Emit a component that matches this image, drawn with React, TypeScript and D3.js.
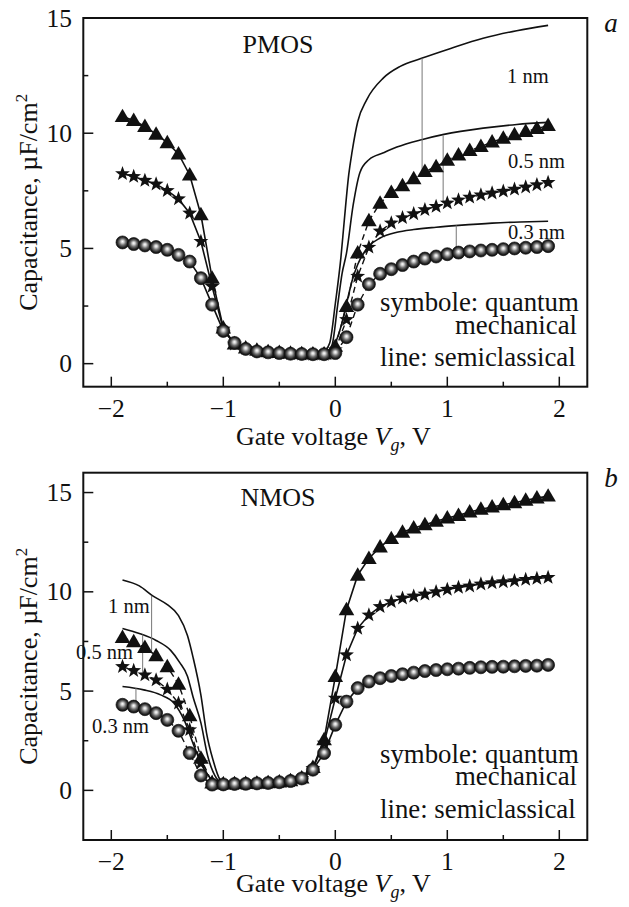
import React from 'react';
import * as d3 from 'd3';

// Gate voltage grid of the symbols (V)
const GATE_VOLTAGE = [
  -1.9, -1.8, -1.7, -1.6, -1.5, -1.4, -1.3, -1.2, -1.1, -1.0,
  -0.9, -0.8, -0.7, -0.6, -0.5, -0.4, -0.3, -0.2, -0.1, 0.0,
  0.1, 0.2, 0.3, 0.4, 0.5, 0.6, 0.7, 0.8, 0.9, 1.0,
  1.1, 1.2, 1.3, 1.4, 1.5, 1.6, 1.7, 1.8, 1.9,
];

// PMOS, quantum mechanical (symbols), µF/cm²
const PMOS_1NM_QM = [
  10.72, 10.55, 10.29, 9.96, 9.59, 9.1, 8.19, 6.46, 3.71, 1.55,
  0.85, 0.68, 0.58, 0.52, 0.48, 0.45, 0.43, 0.42, 0.42, 0.75,
  2.48, 4.8, 6.2, 6.96, 7.43, 7.72, 8.02, 8.34, 8.55, 8.83,
  9.05, 9.25, 9.42, 9.62, 9.78, 9.93, 10.07, 10.2, 10.33,
];
const PMOS_05NM_QM = [
  8.24, 8.12, 7.95, 7.79, 7.51, 7.15, 6.53, 5.3, 3.35, 1.5,
  0.85, 0.66, 0.56, 0.5, 0.46, 0.43, 0.41, 0.4, 0.4, 0.6,
  1.91, 3.79, 5.05, 5.75, 6.1, 6.33, 6.5, 6.68, 6.82, 6.97,
  7.1, 7.22, 7.32, 7.4, 7.48, 7.57, 7.66, 7.76, 7.86,
];
const PMOS_03NM_QM = [
  5.26, 5.19, 5.13, 5.06, 4.94, 4.72, 4.43, 3.71, 2.56, 1.42,
  0.9, 0.64, 0.53, 0.49, 0.46, 0.43, 0.42, 0.41, 0.41, 0.46,
  1.15, 2.56, 3.45, 3.9, 4.1, 4.28, 4.43, 4.56, 4.65, 4.75,
  4.82, 4.87, 4.91, 4.94, 4.97, 5.0, 5.03, 5.06, 5.1,
];

// PMOS, semiclassical lines where they differ from the symbols [V, µF/cm²]
const PMOS_1NM_SC: [number, number][] = [
  [-0.12, 0.42], [-0.05, 0.9], [0.0, 2.6], [0.05, 4.6], [0.08, 6.2], [0.12, 8.2],
  [0.15, 9.2], [0.2, 10.5], [0.28, 11.45], [0.43, 12.4], [0.58, 12.9], [0.77, 13.25],
  [1.03, 13.68], [1.32, 14.12], [1.62, 14.45], [1.9, 14.68],
];
const PMOS_05NM_SC: [number, number][] = [
  [-0.1, 0.42], [-0.03, 0.8], [0.02, 2.5], [0.06, 3.9], [0.1, 4.8], [0.16, 6.9],
  [0.22, 8.3], [0.3, 8.85], [0.43, 9.15], [0.55, 9.4], [0.77, 9.72], [0.97, 9.95],
  [1.32, 10.22], [1.62, 10.38], [1.9, 10.47],
];
const PMOS_03NM_SC: [number, number][] = [
  [-0.1, 0.42], [0.0, 0.9], [0.05, 1.6], [0.1, 2.6], [0.15, 3.6], [0.2, 4.3],
  [0.3, 5.1], [0.4, 5.45], [0.55, 5.7], [0.7, 5.82], [0.9, 5.92], [1.1, 6.0],
  [1.4, 6.1], [1.65, 6.15], [1.9, 6.18],
];

// NMOS, quantum mechanical (symbols), µF/cm²
const NMOS_1NM_QM = [
  7.7, 7.49, 7.2, 6.78, 6.23, 5.35, 3.76, 1.62, 0.37, 0.32,
  0.33, 0.34, 0.36, 0.38, 0.42, 0.48, 0.62, 1.15, 2.55, 5.73,
  9.1, 10.84, 11.68, 12.26, 12.68, 13.0, 13.22, 13.38, 13.55, 13.72,
  13.85, 14.02, 14.16, 14.27, 14.39, 14.49, 14.61, 14.72, 14.82,
];
const NMOS_05NM_QM = [
  6.23, 6.03, 5.81, 5.56, 5.09, 4.39, 3.05, 1.38, 0.4, 0.33,
  0.33, 0.34, 0.36, 0.38, 0.42, 0.48, 0.6, 1.1, 2.38, 4.64,
  6.82, 8.16, 8.83, 9.25, 9.5, 9.68, 9.78, 9.88, 10.0, 10.12,
  10.22, 10.29, 10.39, 10.45, 10.5, 10.55, 10.62, 10.67, 10.72,
];
const NMOS_03NM_QM = [
  4.31, 4.22, 4.09, 3.89, 3.55, 3.0, 1.88, 0.75, 0.29, 0.3,
  0.32, 0.33, 0.35, 0.37, 0.41, 0.47, 0.6, 1.04, 1.88, 3.3,
  4.47, 5.15, 5.48, 5.65, 5.76, 5.85, 5.93, 6.01, 6.06, 6.1,
  6.13, 6.17, 6.2, 6.22, 6.23, 6.25, 6.27, 6.28, 6.32,
];

// NMOS, semiclassical lines where they differ from the symbols [V, µF/cm²]
const NMOS_1NM_SC: [number, number][] = [
  [-1.9, 10.6], [-1.75, 10.3], [-1.63, 9.8], [-1.5, 9.35], [-1.4, 8.8], [-1.32, 7.8],
  [-1.27, 6.7], [-1.2, 4.8], [-1.15, 2.9], [-1.09, 1.5], [-1.03, 0.55], [-0.97, 0.33],
];
const NMOS_05NM_SC: [number, number][] = [
  [-1.9, 8.15], [-1.75, 7.9], [-1.6, 7.55], [-1.47, 7.05], [-1.39, 6.45], [-1.32, 5.75],
  [-1.27, 4.7], [-1.2, 3.4], [-1.14, 1.75], [-1.06, 0.6], [-1.0, 0.33],
];
const NMOS_03NM_SC: [number, number][] = [
  [-1.9, 5.23], [-1.71, 5.06], [-1.56, 4.81], [-1.44, 4.39], [-1.35, 3.55], [-1.26, 2.21],
  [-1.17, 1.04], [-1.08, 0.45], [-1.0, 0.32],
];

// Grey leader lines [V, from, to]
const PMOS_LEADERS: [number, number, number][] = [
  [0.775, 13.25, 8.3], [0.963, 9.9, 7.05], [1.08, 6.0, 4.95],
];
const NMOS_LEADERS: [number, number, number][] = [
  [-1.64, 9.8, 6.9], [-1.72, 7.85, 5.75], [-1.78, 5.15, 4.4],
];

const X_TICKS = [-2, -1, 0, 1, 2];
const X_MINOR = [-1.5, -0.5, 0.5, 1.5];
const Y_TICKS = [0, 5, 10, 15];
const Y_MINOR = [2.5, 7.5, 12.5];
const THICKNESS_LABELS = ['1 nm', '0.5 nm', '0.3 nm'];

const FONT = '"Liberation Serif", "Times New Roman", Times, serif';
const LEFT = 83.3;
const RIGHT = 587.3;

type Marker = 'triangle' | 'star' | 'circle';

function starPath(R: number, r: number) {
  const pts: string[] = [];
  for (let i = 0; i < 10; i++) {
    const a = -Math.PI / 2 + (i * Math.PI) / 5;
    const rad = i % 2 === 0 ? R : r;
    pts.push(`${(rad * Math.cos(a)).toFixed(2)},${(rad * Math.sin(a)).toFixed(2)}`);
  }
  return 'M' + pts.join('L') + 'Z';
}
const STAR = starPath(7.8, 3.2);
const TRI = d3.symbol().type(d3.symbolTriangle).size(105)()!;

function MarkerShape({ kind, cx, cy }: { kind: Marker; cx: number; cy: number }) {
  if (kind === 'circle')
    return <circle cx={cx} cy={cy} r={6.5} fill="url(#sphere)" stroke="#111" strokeWidth={0.7} />;
  if (kind === 'star') return <path d={STAR} transform={`translate(${cx},${cy})`} fill="#111" />;
  return <path d={TRI} transform={`translate(${cx},${cy + 1})`} fill="#111" />;
}

interface PanelProps {
  top: number;
  bottom: number;
  yDomain: [number, number];
  qm: { values: number[]; marker: Marker }[];
  sc: [number, number][][];
  leaders: [number, number, number][];
  solidSide: (v: number) => boolean;
  name: string;
  nameY: number;
  letter: string;
  labels: { text: string; x: number; y: number }[];
  legendY: [number, number, number];
  titleY: number;
  tickLabelY: number;
}

function Panel(p: PanelProps) {
  const x = d3.scaleLinear().domain([-2.25, 2.25]).range([LEFT, RIGHT]);
  const y = d3.scaleLinear().domain(p.yDomain).range([p.bottom, p.top]);
  const line = d3
    .line<[number, number]>()
    .x((d) => x(d[0]))
    .y((d) => y(d[1]));
  const curve = d3
    .line<[number, number]>()
    .x((d) => x(d[0]))
    .y((d) => y(d[1]))
    .curve(d3.curveMonotoneX);
  const midY = (p.top + p.bottom) / 2;

  return (
    <g>
      {p.sc.map((s, i) => (
        <path key={'sc' + i} d={curve(s)!} fill="none" stroke="#111" strokeWidth={1.6} />
      ))}
      {p.leaders.map((l, i) => (
        <line key={'ld' + i} x1={x(l[0])} x2={x(l[0])} y1={y(l[1])} y2={y(l[2])} stroke="#777" strokeWidth={1} />
      ))}
      {p.qm.map((s, i) => {
        const pts: [number, number][] = GATE_VOLTAGE.map((v, j) => [v, s.values[j]]);
        const solid = pts.filter((d) => p.solidSide(d[0]));
        const dashed = pts.filter(
          (d, j) =>
            !p.solidSide(d[0]) ||
            (j > 0 && !p.solidSide(pts[j - 1][0])) ||
            (j + 1 < pts.length && !p.solidSide(pts[j + 1][0]))
        );
        return (
          <g key={'ql' + i}>
            <path d={line(solid)!} fill="none" stroke="#111" strokeWidth={1.6} />
            <path d={line(dashed)!} fill="none" stroke="#111" strokeWidth={1.4} strokeDasharray="6,4" />
          </g>
        );
      })}
      {p.qm.map((s, i) => (
        <g key={'qm' + i}>
          {GATE_VOLTAGE.map((v, j) => (
            <MarkerShape key={j} kind={s.marker} cx={x(v)} cy={y(s.values[j])} />
          ))}
        </g>
      ))}
      <rect x={LEFT} y={p.top} width={RIGHT - LEFT} height={p.bottom - p.top} fill="none" stroke="#111" strokeWidth={2} />
      {X_TICKS.map((t) => (
        <g key={'xt' + t}>
          <line x1={x(t)} x2={x(t)} y1={p.bottom} y2={p.bottom - 10} stroke="#111" strokeWidth={1.5} />
          <text x={x(t)} y={p.tickLabelY} textAnchor="middle" fontSize={25.5} fontFamily={FONT} fill="#111">
            {t < 0 ? '\u2212' + Math.abs(t) : t}
          </text>
        </g>
      ))}
      {X_MINOR.map((t) => (
        <line key={'xm' + t} x1={x(t)} x2={x(t)} y1={p.bottom} y2={p.bottom - 5} stroke="#111" strokeWidth={1.5} />
      ))}
      {Y_TICKS.filter((t) => y(t) >= p.top - 0.5).map((t) => (
        <g key={'yt' + t}>
          <line x1={LEFT} x2={LEFT + 10} y1={y(t)} y2={y(t)} stroke="#111" strokeWidth={1.5} />
          <text x={72} y={y(t) + 8.5} textAnchor="end" fontSize={25.5} fontFamily={FONT} fill="#111">
            {t}
          </text>
        </g>
      ))}
      {Y_MINOR.map((t) => (
        <line key={'ym' + t} x1={LEFT} x2={LEFT + 5} y1={y(t)} y2={y(t)} stroke="#111" strokeWidth={1.5} />
      ))}
      <text
        transform={`translate(37,${midY}) rotate(-90)`}
        textAnchor="middle"
        fontSize={26}
        fontFamily={FONT}
        fill="#111"
      >
        Capacitance, µF/cm
        <tspan dy={-10} fontSize={17}>2</tspan>
      </text>
      <text x={x(0) - 2} y={p.titleY} textAnchor="middle" fontSize={26} fontFamily={FONT} fill="#111">
        Gate voltage <tspan fontStyle="italic">V</tspan>
        <tspan fontStyle="italic" fontSize={18} dy={6}>g</tspan>
        <tspan dy={-6}>, V</tspan>
      </text>
      <text x={278} y={p.nameY} textAnchor="middle" fontSize={26} fontFamily={FONT} fill="#111">
        {p.name}
      </text>
      <text x={611} y={p.top + 14} textAnchor="middle" fontSize={27} fontStyle="italic" fontFamily={FONT} fill="#111">
        {p.letter}
      </text>
      {p.labels.map((l, i) => (
        <text key={'lb' + i} x={l.x} y={l.y} fontSize={20.5} fontFamily={FONT} fill="#111">
          {l.text}
        </text>
      ))}
      <text x={380} y={p.legendY[0]} fontSize={26.8} fontFamily={FONT} fill="#111">
        symbole: quantum
      </text>
      <text x={577} y={p.legendY[1]} textAnchor="end" fontSize={26.8} fontFamily={FONT} fill="#111">
        mechanical
      </text>
      <text x={380} y={p.legendY[2]} fontSize={26.8} fontFamily={FONT} fill="#111">
        line: semiclassical
      </text>
    </g>
  );
}

export default function App() {
  return (
    <svg
      width={629}
      height={907}
      style={{ position: 'absolute', left: 0, top: 0, background: '#fff' }}
      xmlns="http://www.w3.org/2000/svg"
    >
      <defs>
        <radialGradient id="sphere" cx="0.5" cy="0.5" r="0.5" fx="0.5" fy="0.42">
          <stop offset="0" stopColor="#ffffff" />
          <stop offset="0.22" stopColor="#d0d0d0" />
          <stop offset="0.5" stopColor="#707070" />
          <stop offset="0.8" stopColor="#262626" />
          <stop offset="1" stopColor="#0a0a0a" />
        </radialGradient>
      </defs>
      <rect x={0} y={0} width={629} height={907} fill="#fff" />
      <Panel
        top={18}
        bottom={386.7}
        yDomain={[-1, 15]}
        qm={[
          { values: PMOS_1NM_QM, marker: 'triangle' },
          { values: PMOS_05NM_QM, marker: 'star' },
          { values: PMOS_03NM_QM, marker: 'circle' },
        ]}
        sc={[PMOS_1NM_SC, PMOS_05NM_SC, PMOS_03NM_SC]}
        leaders={PMOS_LEADERS}
        solidSide={(v) => v <= 0.001}
        name="PMOS"
        nameY={52.5}
        letter="a"
        labels={[
          { text: THICKNESS_LABELS[0], x: 507, y: 83 },
          { text: THICKNESS_LABELS[1], x: 508, y: 168 },
          { text: THICKNESS_LABELS[2], x: 508, y: 239 },
        ]}
        legendY={[311, 334, 366]}
        titleY={445}
        tickLabelY={417}
      />
      <Panel
        top={472.7}
        bottom={840}
        yDomain={[-2.5, 16]}
        qm={[
          { values: NMOS_1NM_QM, marker: 'triangle' },
          { values: NMOS_05NM_QM, marker: 'star' },
          { values: NMOS_03NM_QM, marker: 'circle' },
        ]}
        sc={[NMOS_1NM_SC, NMOS_05NM_SC, NMOS_03NM_SC]}
        leaders={NMOS_LEADERS}
        solidSide={(v) => v >= -1.001}
        name="NMOS"
        nameY={506}
        letter="b"
        labels={[
          { text: THICKNESS_LABELS[0], x: 108, y: 613 },
          { text: THICKNESS_LABELS[1], x: 76, y: 659 },
          { text: THICKNESS_LABELS[2], x: 92, y: 733 },
        ]}
        legendY={[763, 785, 818]}
        titleY={892}
        tickLabelY={870}
      />
    </svg>
  );
}
